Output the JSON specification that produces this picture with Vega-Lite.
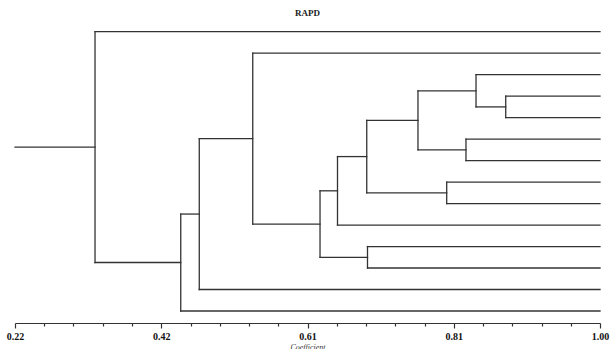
{
  "$schema": "https://vega.github.io/schema/vega-lite/v6.json",
  "width": 585,
  "height": 303,
  "autosize": "none",
  "padding": {"left": 15, "top": 20, "right": 12, "bottom": 26},
  "background": "white",
  "title": {"text": "RAPD", "font": "Liberation Serif", "fontSize": 9, "fontWeight": "bold", "color": "#222", "offset": 2},
  "config": {"view": {"stroke": null}},
  "data": {"values": [
    {"x": 0.22, "x2": 0.3267, "y": 6.372, "y2": 6.372},
    {"x": 0.3267, "x2": 0.3267, "y": 1, "y2": 11.744},
    {"x": 0.3267, "x2": 1.0, "y": 1, "y2": 1},
    {"x": 0.3267, "x2": 0.441, "y": 11.744, "y2": 11.744},
    {"x": 0.441, "x2": 0.441, "y": 9.488, "y2": 14},
    {"x": 0.441, "x2": 0.4657, "y": 9.488, "y2": 9.488},
    {"x": 0.441, "x2": 1.0, "y": 14, "y2": 14},
    {"x": 0.4657, "x2": 0.4657, "y": 5.977, "y2": 13},
    {"x": 0.4657, "x2": 0.537, "y": 5.977, "y2": 5.977},
    {"x": 0.4657, "x2": 1.0, "y": 13, "y2": 13},
    {"x": 0.537, "x2": 0.537, "y": 2, "y2": 9.953},
    {"x": 0.537, "x2": 1.0, "y": 2, "y2": 2},
    {"x": 0.537, "x2": 0.6267, "y": 9.953, "y2": 9.953},
    {"x": 0.6267, "x2": 0.6267, "y": 8.406, "y2": 11.5},
    {"x": 0.6267, "x2": 0.650, "y": 8.406, "y2": 8.406},
    {"x": 0.6267, "x2": 0.690, "y": 11.5, "y2": 11.5},
    {"x": 0.650, "x2": 0.650, "y": 6.8125, "y2": 10},
    {"x": 0.650, "x2": 0.689, "y": 6.8125, "y2": 6.8125},
    {"x": 0.650, "x2": 1.0, "y": 10, "y2": 10},
    {"x": 0.690, "x2": 0.690, "y": 11, "y2": 12},
    {"x": 0.690, "x2": 1.0, "y": 11, "y2": 11},
    {"x": 0.690, "x2": 1.0, "y": 12, "y2": 12},
    {"x": 0.689, "x2": 0.689, "y": 5.125, "y2": 8.5},
    {"x": 0.689, "x2": 0.7573, "y": 5.125, "y2": 5.125},
    {"x": 0.689, "x2": 0.7956, "y": 8.5, "y2": 8.5},
    {"x": 0.7956, "x2": 0.7956, "y": 8, "y2": 9},
    {"x": 0.7956, "x2": 1.0, "y": 8, "y2": 8},
    {"x": 0.7956, "x2": 1.0, "y": 9, "y2": 9},
    {"x": 0.7573, "x2": 0.7573, "y": 3.75, "y2": 6.5},
    {"x": 0.7573, "x2": 0.8347, "y": 3.75, "y2": 3.75},
    {"x": 0.7573, "x2": 0.8213, "y": 6.5, "y2": 6.5},
    {"x": 0.8213, "x2": 0.8213, "y": 6, "y2": 7},
    {"x": 0.8213, "x2": 1.0, "y": 6, "y2": 6},
    {"x": 0.8213, "x2": 1.0, "y": 7, "y2": 7},
    {"x": 0.8347, "x2": 0.8347, "y": 3, "y2": 4.5},
    {"x": 0.8347, "x2": 1.0, "y": 3, "y2": 3},
    {"x": 0.8347, "x2": 0.8743, "y": 4.5, "y2": 4.5},
    {"x": 0.8743, "x2": 0.8743, "y": 4, "y2": 5},
    {"x": 0.8743, "x2": 1.0, "y": 4, "y2": 4},
    {"x": 0.8743, "x2": 1.0, "y": 5, "y2": 5}
  ]},
  "mark": {"type": "rule", "color": "#333", "strokeWidth": 1.3, "strokeCap": "square"},
  "encoding": {
    "x": {
      "field": "x", "type": "quantitative",
      "scale": {"domain": [0.22, 1.0], "nice": false, "zero": false},
      "axis": {
        "values": [0.22, 0.259, 0.298, 0.337, 0.376, 0.415, 0.454, 0.493, 0.532, 0.571, 0.61, 0.649, 0.688, 0.727, 0.766, 0.805, 0.844, 0.883, 0.922, 0.961, 1.0],
        "grid": false,
        "domainColor": "#333", "domainWidth": 1.2,
        "tickColor": "#333", "tickWidth": 1.2,
        "tickSize": {"condition": {"test": "round((datum.value-0.22)/0.039) % 5 == 0", "value": 5}, "value": 3},
        "labelExpr": "round((datum.value-0.22)/0.039) % 5 == 0 ? format(datum.value + 0.0001, '.2f') : ''",
        "labelFont": "Liberation Serif", "labelFontWeight": "bold", "labelFontSize": 10, "labelColor": "#111",
        "labelPadding": 3, "labelFlush": false, "labelOverlap": false, "labelBound": false,
        "title": "Coefficient", "titleFont": "Liberation Serif", "titleFontStyle": "italic", "titleFontWeight": "normal", "titleFontSize": 8, "titleColor": "#333", "titlePadding": 2
      }
    },
    "x2": {"field": "x2"},
    "y": {"field": "y", "type": "quantitative", "scale": {"domain": [0.455, 14.559], "reverse": true, "nice": false, "zero": false}, "axis": null},
    "y2": {"field": "y2"}
  }
}
